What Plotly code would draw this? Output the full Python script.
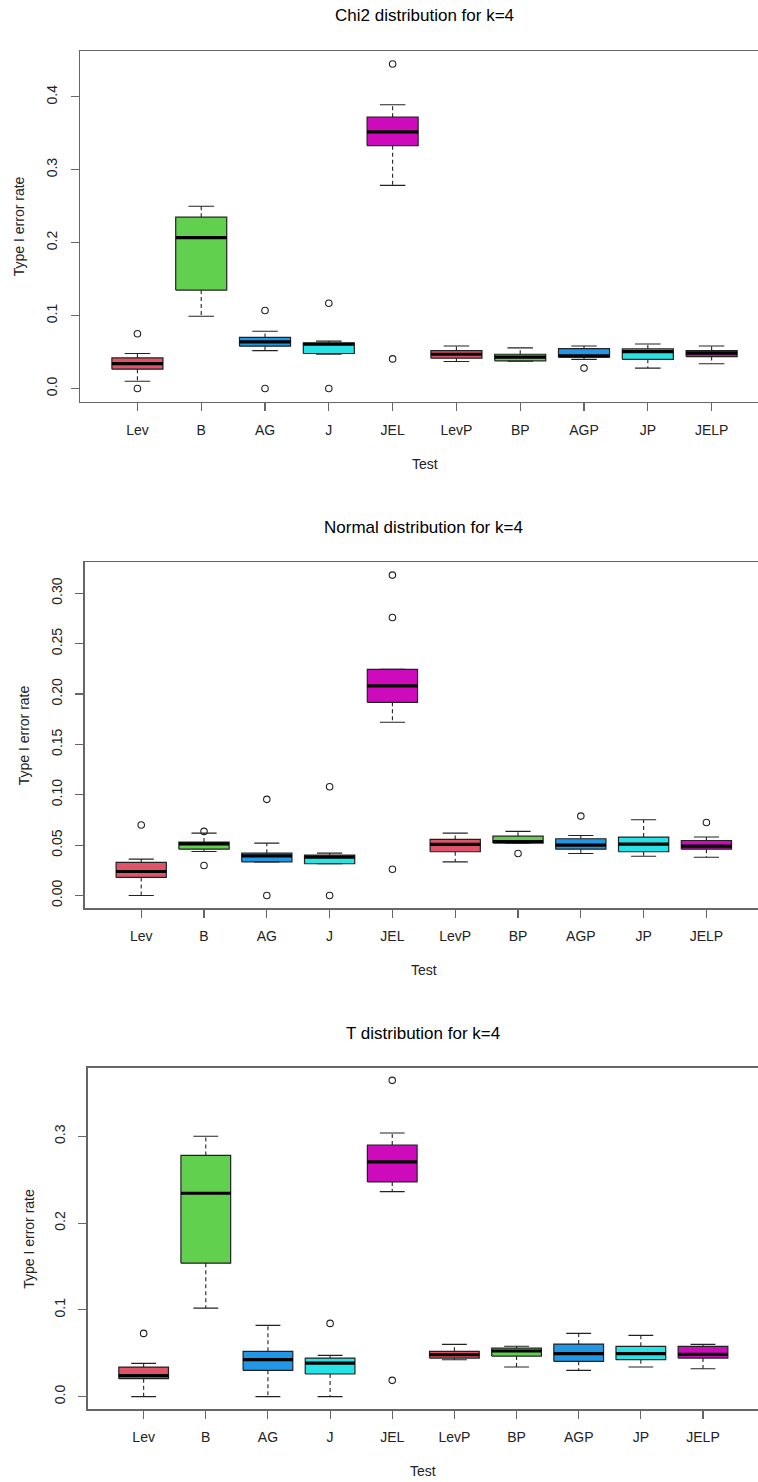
import plotly.graph_objects as go

# ---------------- data ----------------
tests = ["Lev", "B", "AG", "J", "JEL", "LevP", "BP", "AGP", "JP", "JELP"]
colors = ["#DF536B", "#61D04F", "#2297E6", "#28E2E5", "#CD0BBC"] * 2

titles = ["Chi2 distribution for k=4", "Normal distribution for k=4", "T distribution for k=4"]

# Chi2 panel
chi_lower = [0.010, 0.099, 0.052, 0.047, 0.2785, 0.037, 0.0374, 0.040, 0.028, 0.034]
chi_q1 = [0.0265, 0.135, 0.058, 0.048, 0.333, 0.0416, 0.038, 0.043, 0.040, 0.0438]
chi_med = [0.034, 0.207, 0.064, 0.0607, 0.352, 0.047, 0.043, 0.0447, 0.0507, 0.0484]
chi_q3 = [0.042, 0.235, 0.070, 0.0626, 0.372, 0.052, 0.047, 0.0548, 0.0543, 0.052]
chi_upper = [0.048, 0.250, 0.0785, 0.065, 0.389, 0.0584, 0.0557, 0.0584, 0.061, 0.0584]
chi_out = [[0.075, 0.0], [], [0.107, 0.0], [0.117, 0.0], [0.445, 0.0406], [], [], [0.028], [], []]

# Normal panel
nor_lower = [0.0, 0.0437, 0.0334, 0.0315, 0.1719, 0.0334, 0.052, 0.0417, 0.039, 0.038]
nor_q1 = [0.0179, 0.046, 0.0334, 0.0315, 0.1917, 0.0434, 0.052, 0.046, 0.0434, 0.046]
nor_med = [0.0238, 0.0513, 0.0394, 0.038, 0.208, 0.0507, 0.0536, 0.050, 0.051, 0.049]
nor_q3 = [0.0328, 0.053, 0.042, 0.040, 0.2245, 0.0556, 0.0589, 0.0563, 0.058, 0.0546]
nor_upper = [0.0361, 0.0619, 0.052, 0.042, 0.2245, 0.0619, 0.0636, 0.0596, 0.0752, 0.058]
nor_out = [[0.0699], [0.0636, 0.0298], [0.0954, 0.0], [0.108, 0.0], [0.318, 0.276, 0.026],
           [], [0.0417], [0.0788], [], [0.0725]]

# T panel
t_lower = [0.0, 0.102, 0.0, 0.0, 0.2363, 0.0426, 0.0341, 0.0303, 0.0341, 0.0322]
t_q1 = [0.0207, 0.1538, 0.0303, 0.0261, 0.2474, 0.0445, 0.0468, 0.0407, 0.0426, 0.0445]
t_med = [0.0242, 0.2344, 0.0426, 0.0387, 0.2705, 0.0483, 0.0526, 0.0495, 0.0495, 0.0487]
t_q3 = [0.0341, 0.278, 0.0522, 0.0445, 0.290, 0.0522, 0.056, 0.0606, 0.058, 0.058]
t_upper = [0.0384, 0.300, 0.0821, 0.0476, 0.3038, 0.0602, 0.058, 0.0729, 0.0706, 0.0602]
t_out = [[0.0729], [], [], [0.0844], [0.3645, 0.0188], [], [], [], [], []]

ytick_vals = [[0.0, 0.1, 0.2, 0.3, 0.4],
              [0.0, 0.05, 0.10, 0.15, 0.20, 0.25, 0.30],
              [0.0, 0.1, 0.2, 0.3]]
ytick_text = [["0.0", "0.1", "0.2", "0.3", "0.4"],
              ["0.00", "0.05", "0.10", "0.15", "0.20", "0.25", "0.30"],
              ["0.0", "0.1", "0.2", "0.3"]]

panels = [
    (chi_lower, chi_q1, chi_med, chi_q3, chi_upper, chi_out),
    (nor_lower, nor_q1, nor_med, nor_q3, nor_upper, nor_out),
    (t_lower, t_q1, t_med, t_q3, t_upper, t_out),
]

# ---------------- layout geometry (pixels) ----------------
W, H = 758, 1482
# left px, px per category unit, top px, bottom px
geom = [
    (80.0, 63.8, 51.0, 401.5),
    (84.7, 62.8, 562.3, 908.3),
    (87.7, 62.15, 1067.7, 1409.3),
]
title_y = [15.7, 527.7, 1033.3]
xlab_y = [464.0, 970.0, 1470.7]
ylab_x = [19.0, 24.0, 28.3]

FONT = "Liberation Sans, Arial, sans-serif"
TXT = "#222222"
AX = "#666666"

BW = 0.8   # box width (data units)
CW = 0.4   # cap width

fig = go.Figure()
layout = dict(
    width=W, height=H,
    margin=dict(l=0, r=0, t=0, b=0),
    paper_bgcolor="white", plot_bgcolor="white",
    showlegend=False,
    font=dict(family=FONT, size=14, color=TXT),
)
annotations = []

for p, (lo, q1, med, q3, hi, outs) in enumerate(panels):
    sfx = "" if p == 0 else str(p + 1)
    xa, ya = "x" + sfx, "y" + sfx
    pos = list(range(1, len(tests) + 1))

    # boxes
    for i, x in enumerate(pos):
        fig.add_trace(go.Scatter(
            x=[x - BW / 2, x + BW / 2, x + BW / 2, x - BW / 2, x - BW / 2],
            y=[q1[i], q1[i], q3[i], q3[i], q1[i]],
            mode="lines", fill="toself", fillcolor=colors[i],
            line=dict(color="#222222", width=1.2),
            name=tests[i], xaxis=xa, yaxis=ya, hoverinfo="skip"))

    # whiskers (dashed)
    wx, wy = [], []
    for i, x in enumerate(pos):
        wx += [x, x, None, x, x, None]
        wy += [q3[i], hi[i], None, q1[i], lo[i], None]
    fig.add_trace(go.Scatter(x=wx, y=wy, mode="lines",
                             line=dict(color="#222222", width=1.1, dash="4px,3px"),
                             xaxis=xa, yaxis=ya, hoverinfo="skip"))
    # caps
    cx, cy = [], []
    for i, x in enumerate(pos):
        cx += [x - CW / 2, x + CW / 2, None, x - CW / 2, x + CW / 2, None]
        cy += [hi[i], hi[i], None, lo[i], lo[i], None]
    fig.add_trace(go.Scatter(x=cx, y=cy, mode="lines",
                             line=dict(color="#222222", width=1.1),
                             xaxis=xa, yaxis=ya, hoverinfo="skip"))
    # medians
    mx, my = [], []
    for i, x in enumerate(pos):
        mx += [x - BW / 2, x + BW / 2, None]
        my += [med[i], med[i], None]
    fig.add_trace(go.Scatter(x=mx, y=my, mode="lines",
                             line=dict(color="black", width=3.2),
                             xaxis=xa, yaxis=ya, hoverinfo="skip"))
    # outliers
    ox, oy = [], []
    for i, x in enumerate(pos):
        for v in outs[i]:
            ox.append(x)
            oy.append(v)
    fig.add_trace(go.Scatter(x=ox, y=oy, mode="markers",
                             marker=dict(symbol="circle-open", size=6.5,
                                         color="#222222", line=dict(width=1.1)),
                             xaxis=xa, yaxis=ya, hoverinfo="skip"))

    # axis ranges (R-style 4% extension)
    allv = lo + hi + [v for o in outs for v in o]
    vmin, vmax = min(allv), max(allv)
    ext = 0.04 * (vmax - vmin)
    left, unit, top, bottom = geom[p]
    xmax = 0.1 + (W - left) / unit

    layout["xaxis" + sfx] = dict(
        domain=[left / W, 1.0], range=[0.1, xmax], anchor=ya,
        tickmode="array", tickvals=pos, ticktext=tests,
        ticks="outside", ticklen=8, tickwidth=1.1, tickcolor=AX,
        showline=True, linecolor=AX, linewidth=1.3, mirror=True,
        showgrid=False, zeroline=False, ticklabelstandoff=7,
        tickfont=dict(family=FONT, size=14, color=TXT), fixedrange=True)
    layout["yaxis" + sfx] = dict(
        domain=[1 - bottom / H, 1 - top / H], range=[vmin - ext, vmax + ext], anchor=xa,
        tickmode="array", tickvals=ytick_vals[p], ticktext=ytick_text[p],
        tickangle=-90, ticks="outside", ticklen=8, tickwidth=1.1, tickcolor=AX,
        showline=True, linecolor=AX, linewidth=1.3,
        showgrid=False, zeroline=False, ticklabelstandoff=8,
        tickfont=dict(family=FONT, size=14, color=TXT), fixedrange=True)

    cxp = (left + left + 10.8 * unit) / 2
    annotations.append(dict(text=titles[p], x=cxp / W, y=1 - title_y[p] / H,
                            xref="paper", yref="paper", showarrow=False,
                            xanchor="center", yanchor="middle",
                            font=dict(family=FONT, size=17, color="black")))
    annotations.append(dict(text="Test", x=cxp / W, y=1 - xlab_y[p] / H,
                            xref="paper", yref="paper", showarrow=False,
                            xanchor="center", yanchor="middle",
                            font=dict(family=FONT, size=14, color=TXT)))
    annotations.append(dict(text="Type I error rate", x=ylab_x[p] / W,
                            y=1 - (top + bottom) / 2 / H,
                            xref="paper", yref="paper", showarrow=False, textangle=-90,
                            xanchor="center", yanchor="middle",
                            font=dict(family=FONT, size=14, color=TXT)))

layout["annotations"] = annotations
fig.update_layout(**layout)
fig.write_html(
    "out.html",
    config={"displayModeBar": False, "staticPlot": True},
    post_script="document.body.style.margin='0px';document.body.style.overflow='hidden';",
)
